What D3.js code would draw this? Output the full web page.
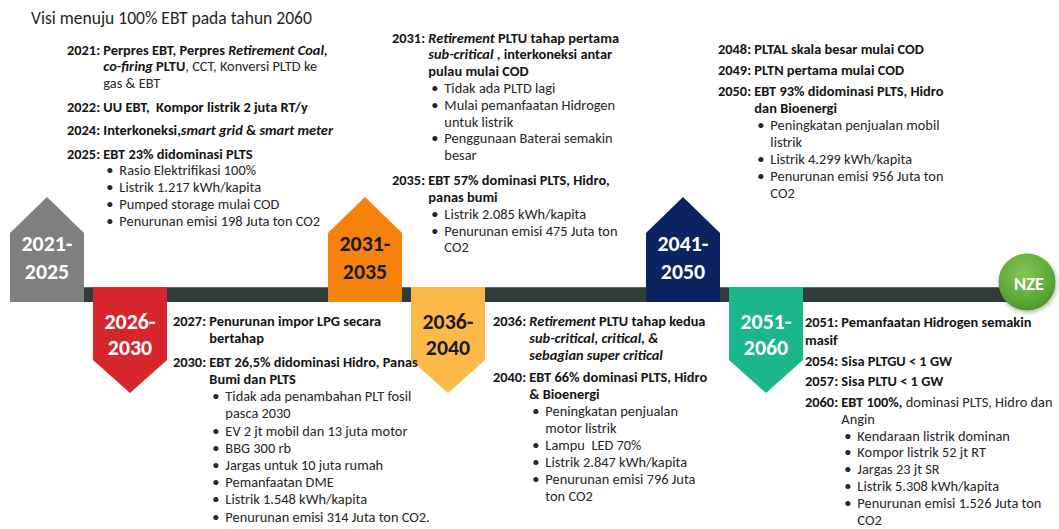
<!DOCTYPE html>
<html><head><meta charset="utf-8">
<script src="https://cdn.jsdelivr.net/npm/d3@7"></script>
<style>body{margin:0;background:#fff;} svg{display:block} text{white-space:pre}</style>
</head><body>
<svg id="c" width="1059" height="529"></svg>
<script>
// ---------- DATA ----------
const title = "Visi menuju 100% EBT pada tahun 2060";
const periodsUp = ["2021-2025", "2031-2035", "2041-2050"];
const periodsDown = ["2026-2030", "2036-2040", "2051-2060"];
const endLabel = "NZE";

const text2021 = [
  ["h", [["2021: ", "b"], ["Perpres EBT, Perpres ", "b"], ["Retirement Coal,", "bi"]]],
  ["c", [["co-firing", "bi"], [" PLTU", "b"], [", CCT, Konversi PLTD ke", "r"]]],
  ["c", [["gas & EBT", "r"]]],
  ["h", [["2022: UU EBT,  Kompor listrik 2 juta RT/y", "b"]]],
  ["h", [["2024: Interkoneksi,", "b"], ["smart grid", "bi"], [" & ", "b"], ["smart meter", "bi"]]],
  ["h", [["2025: EBT 23% didominasi PLTS", "b"]]],
  ["b", "Rasio Elektrifikasi 100%"],
  ["b", "Listrik 1.217 kWh/kapita"],
  ["b", "Pumped storage mulai COD"],
  ["b", "Penurunan emisi 198 Juta ton CO2"]
];
const text2031 = [
  ["h", [["2031: ", "b"], ["Retirement", "bi"], [" PLTU tahap pertama", "b"]]],
  ["c", [["sub-critical", "bi"], [" , interkoneksi antar", "b"]]],
  ["c", [["pulau mulai COD", "b"]]],
  ["b", "Tidak ada PLTD lagi"],
  ["b", "Mulai pemanfaatan Hidrogen"],
  ["bc", "untuk listrik"],
  ["b", "Penggunaan Baterai semakin"],
  ["bc", "besar"],
  ["h", [["2035: EBT 57% dominasi PLTS, Hidro,", "b"]]],
  ["c", [["panas bumi", "b"]]],
  ["b", "Listrik 2.085 kWh/kapita"],
  ["b", "Penurunan emisi 475 Juta ton"],
  ["bc", "CO2"]
];
const text2048 = [
  ["h", [["2048: PLTAL skala besar mulai COD", "b"]]],
  ["h", [["2049: PLTN pertama mulai COD", "b"]]],
  ["h", [["2050: EBT 93% didominasi PLTS, Hidro", "b"]]],
  ["c", [["dan Bioenergi", "b"]]],
  ["b", "Peningkatan penjualan mobil"],
  ["bc", "listrik"],
  ["b", "Listrik 4.299 kWh/kapita"],
  ["b", "Penurunan emisi 956 Juta ton"],
  ["bc", "CO2"]
];
const text2027 = [
  ["h", [["2027: Penurunan impor LPG secara", "b"]]],
  ["c", [["bertahap", "b"]]],
  ["h", [["2030: EBT 26,5% didominasi Hidro, Panas", "b"]]],
  ["c", [["Bumi dan PLTS", "b"]]],
  ["b", "Tidak ada penambahan PLT fosil"],
  ["bc", "pasca 2030"],
  ["b", "EV 2 jt mobil dan 13 juta motor"],
  ["b", "BBG 300 rb"],
  ["b", "Jargas untuk 10 juta rumah"],
  ["b", "Pemanfaatan DME"],
  ["b", "Listrik 1.548 kWh/kapita"],
  ["b", "Penurunan emisi 314 Juta ton CO2."]
];
const text2036 = [
  ["h", [["2036: ", "b"], ["Retirement", "bi"], [" PLTU tahap kedua", "b"]]],
  ["c", [["sub-critical, critical, &", "bi"]]],
  ["c", [["sebagian super critical", "bi"]]],
  ["h", [["2040: EBT 66% dominasi PLTS, Hidro", "b"]]],
  ["c", [["& Bioenergi", "b"]]],
  ["b", "Peningkatan penjualan"],
  ["bc", "motor listrik"],
  ["b", "Lampu  LED 70%"],
  ["b", "Listrik 2.847 kWh/kapita"],
  ["b", "Penurunan emisi 796 Juta"],
  ["bc", "ton CO2"]
];
const text2051 = [
  ["h", [["2051: Pemanfaatan Hidrogen semakin", "b"]]],
  ["w", [["masif", "b"]]],
  ["h", [["2054: Sisa PLTGU < 1 GW", "b"]]],
  ["h", [["2057: Sisa PLTU < 1 GW", "b"]]],
  ["h", [["2060: EBT 100%,", "b"], [" dominasi PLTS, Hidro dan", "r"]]],
  ["c", [["Angin", "r"]]],
  ["b", "Kendaraan listrik dominan"],
  ["b", "Kompor listrik 52 jt RT"],
  ["b", "Jargas 23 jt SR"],
  ["b", "Listrik 5.308 kWh/kapita"],
  ["b", "Penurunan emisi 1.526 Juta ton"],
  ["bc", "CO2"]
];

// ---------- STYLE / LAYOUT ----------
const FONT = "Carlito, Lato, 'Open Sans', sans-serif";
const upColors = ["#7f7f7f", "#f5820c", "#0b2361"];
const upText = ["#ffffff", "#1a1a1a", "#ffffff"];
const downColors = ["#d6262b", "#fcb947", "#1bb78a"];
const downText = ["#ffffff", "#1a1a1a", "#ffffff"];

const svg = d3.select("#c");

// measurement helper
const meas = svg.append("text").attr("font-family", FONT);
function mw(str, size, weight, style) {
  meas.attr("font-size", size).attr("font-weight", weight || "normal").attr("font-style", style || "normal").text(str);
  return meas.node().getComputedTextLength();
}
const fs = 15 * 245 / mw("2030: EBT 26,5% didominasi Hidro, Panas", 15, "bold");
const fsTitle = 18 * 281 / mw(title, 18, "normal");
const fsBox = 22 * 51 / mw("2021-", 22, "bold");
const fsNZE = 20 * 30 / mw(endLabel, 20, "bold");
const indent = mw("2021: ", fs, "bold");
meas.remove();

// horizontal scale for box pairs
const pairX = d3.scalePoint().domain(d3.range(periodsUp.length)).range([10, 646]);
const boxW = 74, pairGap = 83;
// vertical band of the timeline bar
const yS = d3.scaleLinear().domain([0, 1]).range([287, 302]);
const upApex = 197, upShoulder = 233;
const downShoulder = 360, downApex = 393;

const defs = svg.append("defs");
const rg = defs.append("radialGradient").attr("id", "nzeG").attr("cx", "45%").attr("cy", "35%").attr("r", "65%");
rg.append("stop").attr("offset", "0%").attr("stop-color", "#86c655");
rg.append("stop").attr("offset", "70%").attr("stop-color", "#5eab38");
rg.append("stop").attr("offset", "100%").attr("stop-color", "#4c9629");
const sh = defs.append("filter").attr("id", "sh").attr("x", "-30%").attr("y", "-30%").attr("width", "160%").attr("height", "160%");
sh.append("feDropShadow").attr("dx", 1).attr("dy", 2).attr("stdDeviation", 2).attr("flood-color", "#000").attr("flood-opacity", 0.3);

const nzeCx = 1027, nzeCy = 282, nzeR = 28.5;

// bar
svg.append("rect").attr("x", pairX(0) + boxW).attr("y", yS(0))
  .attr("width", nzeCx - (pairX(0) + boxW)).attr("height", yS(1) - yS(0)).attr("fill", "#313d3a");
svg.append("line").attr("x1", pairX(0) + boxW).attr("x2", nzeCx).attr("y1", yS(0) + 0.5).attr("y2", yS(0) + 0.5)
  .attr("stroke", "#566b7a").attr("stroke-width", 1);

// up boxes
const up = svg.selectAll("g.up").data(periodsUp).join("g").attr("class", "up");
up.append("path").attr("fill", (d, i) => upColors[i])
  .attr("d", (d, i) => {
    const x = pairX(i), p = d3.path();
    p.moveTo(x, yS(1)); p.lineTo(x, upShoulder); p.lineTo(x + boxW / 2, upApex);
    p.lineTo(x + boxW, upShoulder); p.lineTo(x + boxW, yS(1)); p.closePath();
    return p.toString();
  });
up.each(function (d, i) {
  const parts = d.split("-");
  const t = d3.select(this).append("text").attr("font-family", FONT).attr("font-weight", "bold")
    .attr("font-size", fsBox).attr("fill", upText[i]).attr("text-anchor", "middle");
  t.append("tspan").attr("x", pairX(i) + boxW / 2).attr("y", 251).text(parts[0] + "-");
  t.append("tspan").attr("x", pairX(i) + boxW / 2).attr("y", 279).text(parts[1]);
});

// down boxes
const down = svg.selectAll("g.down").data(periodsDown).join("g").attr("class", "down");
down.append("path").attr("fill", (d, i) => downColors[i])
  .attr("d", (d, i) => {
    const x = pairX(i) + pairGap, p = d3.path();
    p.moveTo(x, yS(0)); p.lineTo(x + boxW, yS(0)); p.lineTo(x + boxW, downShoulder);
    p.lineTo(x + boxW / 2, downApex); p.lineTo(x, downShoulder); p.closePath();
    return p.toString();
  });
down.each(function (d, i) {
  const parts = d.split("-");
  const t = d3.select(this).append("text").attr("font-family", FONT).attr("font-weight", "bold")
    .attr("font-size", fsBox).attr("fill", downText[i]).attr("text-anchor", "middle");
  t.append("tspan").attr("x", pairX(i) + pairGap + boxW / 2).attr("y", 329).text(parts[0] + "-");
  t.append("tspan").attr("x", pairX(i) + pairGap + boxW / 2).attr("y", 355).text(parts[1]);
});

// NZE circle
svg.append("circle").attr("cx", nzeCx).attr("cy", nzeCy).attr("r", nzeR)
  .attr("fill", "url(#nzeG)").attr("filter", "url(#sh)");
svg.append("text").attr("x", nzeCx + 2).attr("y", nzeCy + 8).attr("text-anchor", "middle")
  .attr("font-family", FONT).attr("font-weight", "bold").attr("font-size", fsNZE).attr("fill", "#fff").text(endLabel);

// title
svg.append("text").attr("x", 31).attr("y", 24).attr("font-family", FONT).attr("font-size", fsTitle)
  .attr("fill", "#1f1f1f").text(title);

// text blocks
const blocks = [
  { lines: text2021, x: 67, y: 50, step: 16.8, gap: 23.5 },
  { lines: text2031, x: 392, y: 38, step: 16.8, gap: 25 },
  { lines: text2048, x: 718, y: 49, step: 17, gap: 21 },
  { lines: text2027, x: 173, y: 321, step: 17.2, gap: 24 },
  { lines: text2036, x: 493, y: 321, step: 17, gap: 22 },
  { lines: text2051, x: 805, y: 322, step: 16.9, gap: 20.6 }
];
const segStyle = {
  b: ["bold", "normal", "#141414"], bi: ["bold", "italic", "#141414"],
  r: ["normal", "normal", "#262626"], i: ["normal", "italic", "#262626"]
};
blocks.forEach(bk => {
  const g = svg.append("g").attr("font-family", FONT).attr("font-size", fs);
  let y = bk.y;
  bk.lines.forEach((ln, li) => {
    const [type, content] = ln;
    if (li > 0) y += (type === "h") ? bk.gap : (type === "w" ? bk.step + 1.5 : bk.step);
    const by = y + 4.5;
    if (type === "h" || type === "w" || type === "c") {
      const x = type === "c" ? bk.x + indent : bk.x;
      const t = g.append("text").attr("x", x).attr("y", by);
      content.forEach(s => {
        const st = segStyle[s[1]];
        t.append("tspan").attr("font-weight", st[0]).attr("font-style", st[1]).attr("fill", st[2]).text(s[0]);
      });
    } else {
      if (type === "b") {
        g.append("text").attr("x", bk.x + indent + 3).attr("y", by).attr("fill", "#262626").text("•");
      }
      g.append("text").attr("x", bk.x + indent + 16).attr("y", by).attr("fill", "#262626").text(content);
    }
  });
});
</script>
</body></html>
